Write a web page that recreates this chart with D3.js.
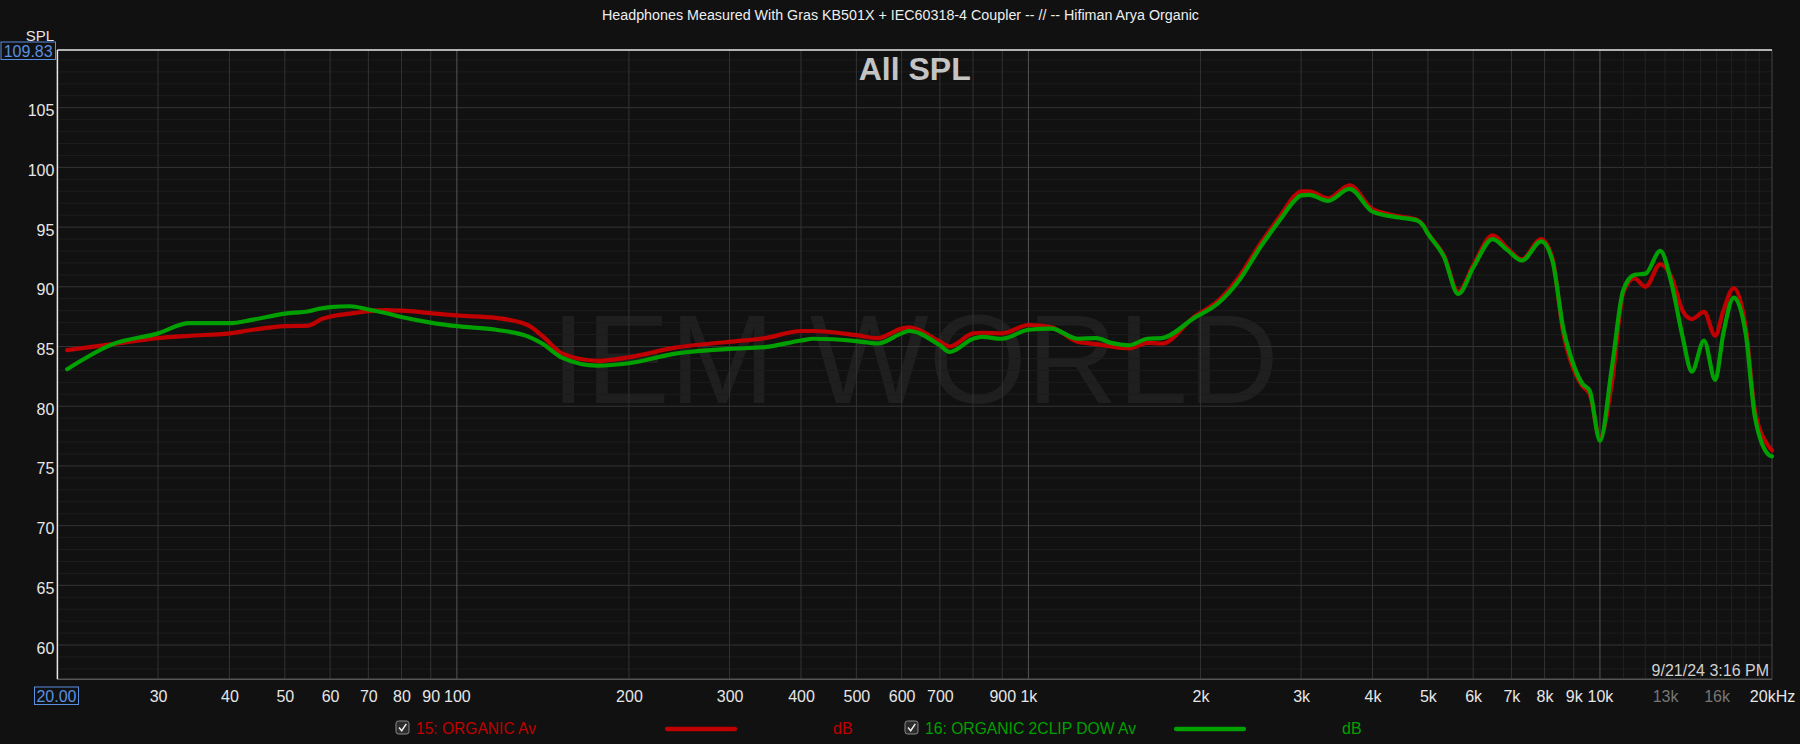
<!DOCTYPE html>
<html><head><meta charset="utf-8">
<script src="https://cdn.jsdelivr.net/npm/d3@7"></script>
<style>
html,body{margin:0;padding:0;background:#111;}
svg{display:block;}
text{font-family:"Liberation Sans",Arial,Helvetica,sans-serif;}
</style>
</head><body>
<svg id="chart" width="1800" height="744"></svg>
<script>
// ---------- data ----------
const freqs = [20.8, 25, 30, 34, 40, 44, 50, 55, 58, 60, 65, 70, 75, 80, 90, 100, 117, 133, 141, 153, 176, 200, 241, 300, 346, 400, 420, 500, 545, 600, 618, 700, 728, 800, 828, 900, 1000, 1098, 1218, 1315, 1395, 1500, 1616, 1711, 1951, 2145, 2334, 2544, 2774, 2920, 3000, 3100, 3345, 3648, 4000, 4452, 4788, 4900, 5000, 5335, 5650, 6016, 6488, 6896, 7302, 7892, 8255, 8636, 8898, 9311, 9596, 10000, 10497, 10981, 11486, 12015, 12753, 13339, 13953, 14480, 15209, 15909, 16440, 17149, 17988, 18672, 19766, 20000];

const organicAv = [84.7, 85.2, 85.7, 85.9, 86.1, 86.4, 86.7, 86.75, 87.3, 87.5, 87.75, 87.95, 88.05, 88.0, 87.8, 87.6, 87.4, 86.8, 85.9, 84.4, 83.8, 84.1, 84.9, 85.4, 85.7, 86.3, 86.3, 85.95, 85.7, 86.5, 86.6, 85.4, 85.0, 86.1, 86.15, 86.1, 86.8, 86.6, 85.4, 85.2, 85.0, 84.85, 85.3, 85.25, 87.5, 88.8, 90.8, 93.6, 96.1, 97.6, 98.0, 98.0, 97.4, 98.5, 96.5, 95.9, 95.6, 95.2, 94.5, 92.6, 89.6, 91.9, 94.3, 93.2, 92.3, 94.0, 92.4, 86.0, 83.7, 81.7, 81.0, 77.4, 82.0, 89.5, 90.7, 90.0, 91.9, 90.8, 88.0, 87.3, 87.9, 85.9, 88.0, 89.9, 86.6, 79.6, 76.6, 76.3];

const organic2ClipAv = [83.1, 85.2, 86.1, 86.95, 86.95, 87.25, 87.75, 87.95, 88.2, 88.3, 88.37, 88.1, 87.8, 87.47, 87.0, 86.7, 86.4, 85.85, 85.25, 84.05, 83.4, 83.6, 84.4, 84.8, 84.95, 85.5, 85.65, 85.45, 85.25, 86.1, 86.3, 85.1, 84.55, 85.65, 85.8, 85.65, 86.4, 86.5, 85.65, 85.7, 85.3, 85.1, 85.65, 85.7, 87.4, 88.6, 90.5, 93.3, 95.8, 97.2, 97.65, 97.7, 97.2, 98.2, 96.3, 95.8, 95.55, 95.15, 94.45, 92.5, 89.4, 91.7, 94.0, 93.05, 92.2, 93.8, 92.2, 86.4, 84.1, 81.9, 81.3, 77.1, 83.3, 89.7, 91.0, 91.1, 93.0, 90.3, 85.8, 82.9, 85.5, 82.2, 86.1, 89.1, 86.1, 79.1, 75.9, 75.8];

const xTickVals = [30, 40, 50, 60, 70, 80, 90, 100, 200, 300, 400, 500, 600, 700, 900, 1000, 2000, 3000, 4000, 5000, 6000, 7000, 8000, 9000, 10000, 13000, 16000, 20000];
const xTickText = ["30", "40", "50", "60", "70", "80", "90", "100", "200", "300", "400", "500", "600", "700", "900", "1k", "2k", "3k", "4k", "5k", "6k", "7k", "8k", "9k", "10k", "13k", "16k", "20kHz"];
const gridFreqs = [30, 40, 50, 60, 70, 80, 90, 200, 300, 400, 500, 600, 700, 800, 900, 2000, 3000, 4000, 5000, 6000, 7000, 8000, 9000];
const decadeFreqs = [100, 1000, 10000];
const minorFreqs = [11000, 12000, 13000, 14000, 15000, 16000, 17000, 18000, 19000];
const yTickVals = [60, 65, 70, 75, 80, 85, 90, 95, 100, 105];
const yMinorVals = d3.range(58, 110).filter(v => v % 5 !== 0);

const titleText = "Headphones Measured With Gras KB501X + IEC60318-4 Coupler -- // -- Hifiman Arya Organic";
const legendNames = ["15: ORGANIC Av", "16: ORGANIC 2CLIP DOW Av"];
const seriesColors = ["#c00000", "#00a000"];

// ---------- layout ----------
const svg = d3.select("#chart");
const L = 57.4, R = 1772, T = 50, B = 679.3;
const x = d3.scaleLog().domain([20, 20000]).range([L, R]);
const y = d3.scaleLinear().domain([57.13, 109.83]).range([B, T]);

svg.append("rect").attr("width", 1800).attr("height", 744).attr("fill", "#111");

// watermark
svg.append("text").attr("x", (L + R) / 2).attr("y", 403).attr("text-anchor", "middle")
  .attr("font-size", 126).attr("fill", "#1f1f1f").text("IEM WORLD");

const g = svg.append("g");
// horizontal grid
g.selectAll(".hmin").data(yMinorVals).enter().append("line")
  .attr("x1", L).attr("x2", R).attr("y1", d => y(d)).attr("y2", d => y(d))
  .attr("stroke", "#1d1d1d").attr("stroke-width", 1);
g.selectAll(".hmaj").data(yTickVals).enter().append("line")
  .attr("x1", L).attr("x2", R).attr("y1", d => y(d)).attr("y2", d => y(d))
  .attr("stroke", "#343434").attr("stroke-width", 1);
// vertical grid
g.selectAll(".vmin").data(minorFreqs).enter().append("line")
  .attr("y1", T).attr("y2", B).attr("x1", d => x(d)).attr("x2", d => x(d))
  .attr("stroke", "#222").attr("stroke-width", 1);
g.selectAll(".vmaj").data(gridFreqs).enter().append("line")
  .attr("y1", T).attr("y2", B).attr("x1", d => x(d)).attr("x2", d => x(d))
  .attr("stroke", "#333").attr("stroke-width", 1);
g.selectAll(".vdec").data(decadeFreqs).enter().append("line")
  .attr("y1", T).attr("y2", B).attr("x1", d => x(d)).attr("x2", d => x(d))
  .attr("stroke", "#555").attr("stroke-width", 1);

// borders
svg.append("line").attr("x1", R).attr("x2", R).attr("y1", T).attr("y2", B).attr("stroke", "#444");
svg.append("line").attr("x1", L).attr("x2", R).attr("y1", B).attr("y2", B).attr("stroke", "#555").attr("stroke-width", 1.5);
svg.append("line").attr("x1", L).attr("x2", R).attr("y1", T).attr("y2", T).attr("stroke", "#e8e8e8").attr("stroke-width", 1.5);
svg.append("line").attr("x1", L).attr("x2", L).attr("y1", T).attr("y2", B).attr("stroke", "#e8e8e8").attr("stroke-width", 1.5);

// title + All SPL
svg.append("text").attr("x", 900.5).attr("y", 20).attr("text-anchor", "middle")
  .attr("font-size", 14).attr("fill", "#eee")
  .attr("textLength", 597).attr("lengthAdjust", "spacingAndGlyphs").text(titleText);
svg.append("text").attr("x", (L + R) / 2).attr("y", 80).attr("text-anchor", "middle")
  .attr("font-size", 32).attr("font-weight", "bold").attr("fill", "#c4c4c4").text("All SPL");

// curves
const line = d3.line().x(d => x(d[0])).y(d => y(d[1])).curve(d3.curveMonotoneX);
[organicAv, organic2ClipAv].forEach((vals, i) => {
  svg.append("path").datum(freqs.map((f, k) => [f, vals[k]]))
    .attr("d", line).attr("fill", "none").attr("stroke", seriesColors[i])
    .attr("stroke-width", 4.2).attr("stroke-linejoin", "round").attr("stroke-linecap", "round");
});

// axes
const xAxis = d3.axisBottom(x).tickValues(xTickVals).tickFormat((d, i) => xTickText[i]).tickSize(0).tickPadding(11);
const xa = svg.append("g").attr("transform", `translate(0,${B})`).call(xAxis);
xa.select(".domain").remove();
xa.selectAll("text").attr("font-size", 16).attr("font-family", null)
  .attr("fill", (d) => (d === 13000 || d === 16000) ? "#777" : "#e6e6e6");

const yAxis = d3.axisLeft(y).tickValues(yTickVals).tickSize(0).tickPadding(3);
const ya = svg.append("g").attr("transform", `translate(${L},0)`).call(yAxis);
ya.select(".domain").remove();
ya.selectAll("text").attr("font-size", 16).attr("font-family", null).attr("fill", "#e6e6e6").attr("dy", "0.5em");

// axis label + cursor boxes
svg.append("text").attr("x", 54).attr("y", 41).attr("text-anchor", "end").attr("font-size", 15).attr("fill", "#e6e6e6").text("SPL");
svg.append("rect").attr("x", 1).attr("y", 42).attr("width", 54.5).attr("height", 17.5).attr("fill", "#111").attr("stroke", "#5b8fe0").attr("stroke-width", 1);
svg.append("text").attr("x", 28.2).attr("y", 56.5).attr("text-anchor", "middle").attr("font-size", 16).attr("fill", "#5b8fe0").text(y.domain()[1].toFixed(2));
svg.append("rect").attr("x", 34.5).attr("y", 687).attr("width", 44).attr("height", 17.5).attr("fill", "#111").attr("stroke", "#5b8fe0").attr("stroke-width", 1);
svg.append("text").attr("x", 56.5).attr("y", 701.5).attr("text-anchor", "middle").attr("font-size", 16).attr("fill", "#5b8fe0").text(x.domain()[0].toFixed(2));

// timestamp
svg.append("text").attr("x", 1769).attr("y", 676).attr("text-anchor", "end").attr("font-size", 16).attr("fill", "#d0d0d0").text("9/21/24 3:16 PM");

// legend
const legendItems = [
  { cb: 396, tx: 416, tw: 120, l1: 667, l2: 735, db: 833 },
  { cb: 905, tx: 925, tw: 211, l1: 1176, l2: 1244, db: 1342 }
];
legendItems.forEach((it, i) => {
  svg.append("rect").attr("x", it.cb).attr("y", 721).attr("width", 13).attr("height", 13).attr("rx", 2.5)
    .attr("fill", "#2c2c2c").attr("stroke", "#8a8a8a").attr("stroke-width", 1);
  svg.append("path").attr("d", `M${it.cb + 3},${727.5} l2.7,3.2 l4.6,-6.8`).attr("fill", "none")
    .attr("stroke", "#eee").attr("stroke-width", 1.5);
  svg.append("text").attr("x", it.tx).attr("y", 734).attr("font-size", 16).attr("fill", seriesColors[i])
    .attr("textLength", it.tw).attr("lengthAdjust", "spacingAndGlyphs").text(legendNames[i]);
  svg.append("line").attr("x1", it.l1).attr("x2", it.l2).attr("y1", 729).attr("y2", 729)
    .attr("stroke", seriesColors[i]).attr("stroke-width", 4.3).attr("stroke-linecap", "round");
  svg.append("text").attr("x", it.db).attr("y", 734).attr("font-size", 16).attr("fill", seriesColors[i]).text("dB");
});
</script>
</body></html>
